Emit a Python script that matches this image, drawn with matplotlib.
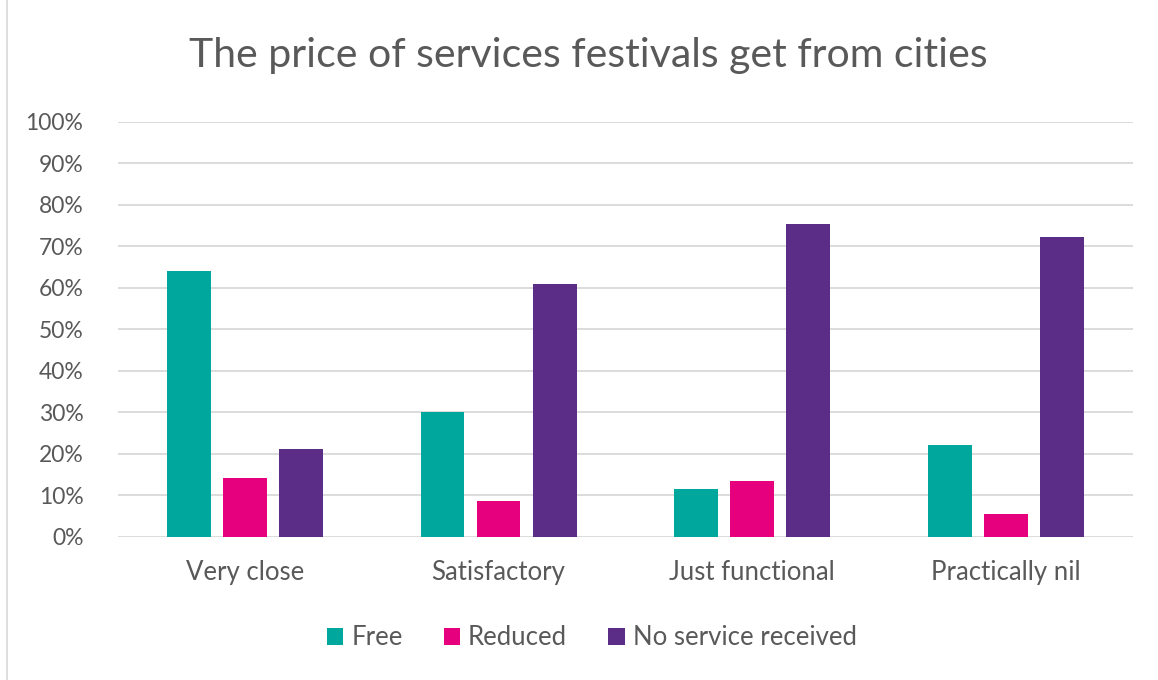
import numpy as np
import matplotlib
matplotlib.use('Agg')
import matplotlib.pyplot as plt
from matplotlib.lines import Line2D
from matplotlib.ticker import PercentFormatter

# survey answers, share of festivals per answer
categories = ['Very close', 'Satisfactory', 'Just functional', 'Practically nil']
free = [0.641, 0.301, 0.114, 0.221]
reduced = [0.141, 0.086, 0.133, 0.055]
no_service = [0.212, 0.608, 0.753, 0.723]

series = [('Free', free, '#00A79D'),
          ('Reduced', reduced, '#E6007E'),
          ('No service received', no_service, '#5C2D87')]

plt.rcParams['font.family'] = ['Lato', 'DejaVu Sans']
txt = '#595959'

fig = plt.figure(figsize=(11.58, 6.8), dpi=100)
ax = fig.add_axes([0.102, 0.211, 0.876, 0.610])

x = np.arange(len(categories))
width = 0.173
step = 0.221
for i, (name, vals, col) in enumerate(series):
    ax.bar(x + (i - 1) * step, vals, width, color=col, label=name, zorder=3)

ax.set_ylim(0, 1.0)
ax.set_xlim(-0.5, len(categories) - 0.5)
ax.set_yticks(np.arange(0, 1.01, 0.1))
ax.yaxis.set_major_formatter(PercentFormatter(1.0, decimals=0))
ax.grid(axis='y', color='#D9D9D9', linewidth=1.3, zorder=0)
for s in ax.spines.values():
    s.set_visible(False)
ax.tick_params(axis='both', length=0, colors=txt)
ax.tick_params(axis='y', pad=25, labelsize=16.5)
ax.tick_params(axis='x', pad=17, labelsize=18.5)
ax.set_xticks(x)
ax.set_xticklabels(categories)

fig.suptitle('The price of services festivals get from cities', x=0.508, y=0.945,
             fontsize=29.5, color=txt)

fig.legend(loc='center', bbox_to_anchor=(0.511, 0.062), ncol=3, frameon=False,
           fontsize=18.5, labelcolor=txt, handlelength=0.65, handleheight=0.65,
           handletextpad=0.3, columnspacing=1.6)

# thin frame edge on the left
fig.add_artist(Line2D([0.006, 0.006], [0.0, 1.0], color='#D9D9D9', linewidth=1.2))

fig.savefig('out.png', dpi=100)
